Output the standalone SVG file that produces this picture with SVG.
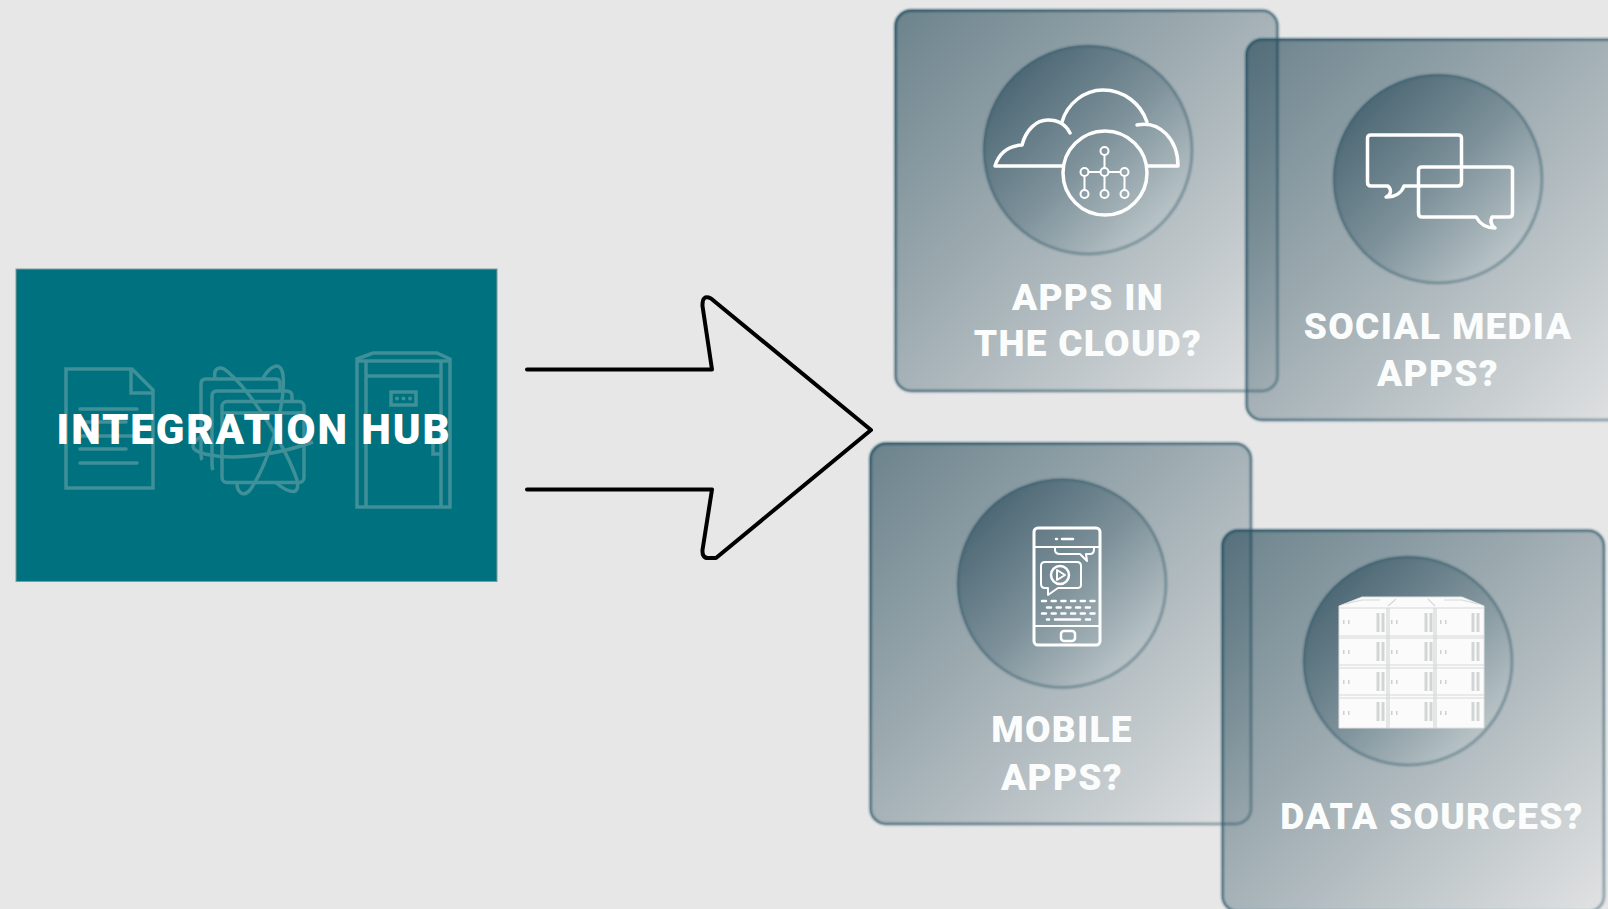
<svg xmlns="http://www.w3.org/2000/svg" width="1608" height="909" viewBox="0 0 1608 909">
<defs>
<linearGradient id="cardGrad" x1="0" y1="0" x2="1" y2="1">
<stop offset="0" stop-color="#1a4050" stop-opacity="0.6"/>
<stop offset="1" stop-color="#1a4050" stop-opacity="0.03"/>
</linearGradient>
<linearGradient id="edgeGrad" x1="0" y1="0" x2="1" y2="1">
<stop offset="0" stop-color="#2c5566" stop-opacity="0.95"/>
<stop offset="1" stop-color="#3c6272" stop-opacity="0.55"/>
</linearGradient>
<linearGradient id="circGrad" x1="0.12" y1="0.12" x2="0.88" y2="0.88">
<stop offset="0" stop-color="#4a6673"/>
<stop offset="0.5" stop-color="#7c9099"/>
<stop offset="1" stop-color="#bec8cb"/>
</linearGradient>
<linearGradient id="circEdge" x1="0" y1="0" x2="1" y2="1">
<stop offset="0" stop-color="#3a5c6b" stop-opacity="0.8"/>
<stop offset="1" stop-color="#6c8791" stop-opacity="0.8"/>
</linearGradient>
<filter id="soft" x="-3%" y="-3%" width="106%" height="106%"><feGaussianBlur stdDeviation="0.9"/></filter>
<filter id="softer" x="-3%" y="-3%" width="106%" height="106%"><feGaussianBlur stdDeviation="0.3"/></filter>
</defs>
<style>
.card{fill:url(#cardGrad)}
.edge{fill:none;stroke:url(#edgeGrad);stroke-width:2.500;filter:url(#soft)}
.circ{fill:url(#circGrad)}
.ring{fill:none;stroke:url(#circEdge);stroke-width:2.500;filter:url(#soft)}
.lbl{font-family:"Roboto","Liberation Sans",sans-serif;font-weight:900;fill:#fbfcfc;font-size:37px;letter-spacing:1.300px;text-anchor:middle}
.ic{fill:none;stroke:#fff;stroke-width:3.500;stroke-linejoin:round;stroke-linecap:round}
.ic2{fill:none;stroke:#fff;stroke-width:2;stroke-linecap:round;stroke-linejoin:round}
.hi{fill:none;stroke:#3f9098;stroke-width:3.500}
.db{fill:#fbfbfb;stroke:#dfe1e1;stroke-width:1}
.dbl{fill:none;stroke:#d6d9d9;stroke-width:1.200}
.bar{fill:none;stroke:#d2d5d5;stroke-width:3}
</style>
<rect width="1608" height="909" fill="#e7e7e7"/>
<g id="integration-hub">
<rect x="16" y="269" width="481" height="312.500" fill="#02727f" stroke="#7f9a9c" stroke-width="1" filter="url(#softer)"/>
<g class="hi">
<path d="M66 369H132L153 390V488H66Z"/><path d="M131 369V393H153"/>
<path d="M80 409H137M80 422H126M80 436H137M80 449H126M80 463H137" stroke-linecap="round"/>
<path d="M202 460Q201 458 201 452V384Q201 379 206 379H276Q280 379 280 384V390"/>
<path d="M213 470Q212 468 212 462V396Q212 391 217 391H286Q292 391 292 396V402"/>
<rect x="222" y="401.500" width="82" height="81" rx="5"/>
<path d="M222 413H304"/>
<path d="M215 378C213 368 220 365 228 372C252 392 287 450 297 480C300 494 292 496 275 482"/>
<path d="M263 378C270 366 281 360 283 375C286 405 268 465 250 490C243 498 237 492 237 483"/>
<path d="M200 437C190 445 190 450 205 454C240 462 285 452 313 442"/>
</g>
<g class="hi">
<path d="M357 359L373 353H437L450 359V507H357Z"/>
<path d="M357 361H450M366 361V507M441 361V507M366 376H441"/>
<rect x="391" y="392" width="25" height="13"/>
<path d="M433 440V454H441"/>
</g>
<circle cx="397" cy="398.500" r="2" fill="#3f9098"/><circle cx="403.500" cy="398.500" r="2" fill="#3f9098"/><circle cx="410" cy="398.500" r="2" fill="#3f9098"/>
<text x="254" y="444" font-family="Roboto,'Liberation Sans',sans-serif" font-weight="900" font-size="42" letter-spacing="1.900" fill="#fff" text-anchor="middle">INTEGRATION HUB</text>
</g>
<g id="connectors">
<path d="M527 369.500H712L702.500 306Q702 294 711 298.500L871 430L716 558H708Q702 558 702.500 550L712 489.500H527" fill="none" stroke="#000" stroke-width="4" stroke-linejoin="round" stroke-linecap="round"/>
</g>
<g id="card-cloud">
<rect class="card" x="895" y="10" width="383" height="381.500" rx="16"/>
<rect class="edge" x="895.500" y="10.500" width="382" height="380.500" rx="15.500"/>
<circle class="circ" cx="1088" cy="150" r="104.500"/>
<circle class="ring" cx="1088" cy="150" r="104"/>
<g class="ic">
<path d="M1063 166H995C999 153 1009 146 1022 145C1026 130 1036 120 1048 120C1058 120 1066 125 1070 133"/>
<path d="M1062 122C1067 104 1084 90 1103 90C1124 90 1141 104 1147 122"/>
<path d="M1137 125C1160 120 1178 140 1178 166H1147"/>
<circle cx="1105" cy="173" r="42"/>
</g>
<g class="ic2">
<path d="M1104.500 155V168M1104.500 176V190M1088.500 172H1100.500M1108.500 172H1120M1084.500 176V190M1124.500 176V190"/>
<circle cx="1104.500" cy="151" r="4"/><circle cx="1084.500" cy="172" r="4"/><circle cx="1104.500" cy="172" r="4"/><circle cx="1124.500" cy="172" r="4"/><circle cx="1084.500" cy="194" r="4"/><circle cx="1104.500" cy="194" r="4"/><circle cx="1124.500" cy="194" r="4"/>
</g>
<text class="lbl" x="1088" y="310">APPS IN</text>
<text class="lbl" x="1088" y="356">THE CLOUD?</text>
</g>
<g id="card-social">
<rect class="card" x="1246" y="39" width="383" height="381.500" rx="16"/>
<rect class="edge" x="1246.500" y="39.500" width="382" height="380.500" rx="15.500"/>
<circle class="circ" cx="1438" cy="179" r="104.500"/>
<circle class="ring" cx="1438" cy="179" r="104"/>
<g class="ic">
<path d="M1388 186H1371Q1367.500 186 1367.500 182V138Q1367.500 135 1371 135H1458Q1461.500 135 1461.500 138V182Q1461.500 186 1458 186H1404C1402 192 1396 197 1386 197C1391 195 1392 190 1388 186Z"/>
<path d="M1476 217H1422Q1418.500 217 1418.500 213V170Q1418.500 167 1422 167H1509Q1512.500 167 1512.500 170V213Q1512.500 217 1509 217H1492C1490 221 1491 225 1495 228C1486 228 1480 224 1476 217Z"/>
</g>
<text class="lbl" x="1438" y="339">SOCIAL MEDIA</text>
<text class="lbl" x="1438" y="386">APPS?</text>
</g>
<g id="card-mobile">
<rect class="card" x="870" y="443" width="381.500" height="381.500" rx="16"/>
<rect class="edge" x="870.500" y="443.500" width="380.500" height="380.500" rx="15.500"/>
<circle class="circ" cx="1062" cy="583.500" r="104.500"/>
<circle class="ring" cx="1062" cy="583.500" r="104"/>
<g class="ic2">
<rect x="1034" y="528" width="66" height="117" rx="4" stroke-width="3"/>
<path d="M1034 547H1100M1034 626H1100"/>
<path d="M1056 539H1057M1062 539H1073" stroke-width="2.500"/>
<path d="M1055 548V550Q1055 554 1060 554H1080L1087 561L1086 554H1090Q1094 554 1094 549V547"/>
<path d="M1045 562H1077Q1081 562 1081 566V585Q1081 588 1077 588H1058L1048 595V588H1045Q1041 588 1041 584V566Q1041 562 1045 562Z"/>
<circle cx="1060" cy="575" r="9" stroke-width="2.500"/>
<path d="M1057 570V580L1065 575Z"/>
<path d="M1042 601H1095M1047 607.500H1090M1042 613.500H1095" stroke-width="2.500" stroke-dasharray="4 5.700"/>
<path d="M1047 619.500H1049M1055 619.500H1080M1086 619.500H1090" stroke-width="2.500"/>
<rect x="1061" y="631" width="14" height="10" rx="3" stroke-width="2.500"/>
</g>
<text class="lbl" x="1062" y="742">MOBILE</text>
<text class="lbl" x="1062" y="790">APPS?</text>
</g>
<g id="card-data">
<rect class="card" x="1222" y="530" width="382.500" height="382" rx="16"/>
<rect class="edge" x="1222.500" y="530.500" width="381.500" height="381" rx="15.500"/>
<circle class="circ" cx="1408" cy="661" r="104.500"/>
<circle class="ring" cx="1408" cy="661" r="104"/>
<g id="storage" filter="url(#softer)">
<path class="db" d="M1339 606L1362 597H1462L1484 606V728H1339Z"/>
<path class="dbl" d="M1339 608H1484M1387 608V728M1389 608V728M1434 608V728M1436 608V728M1339 636H1484M1339 638H1484M1339 665H1484M1339 668H1484M1339 695H1484M1339 698H1484"/>
<path class="dbl" d="M1345 604L1362 600H1380M1388 606L1396 599M1435 606L1428 599M1478 604L1462 600H1444"/>
<path class="bar" d="M1378 613V632M1383 613V632M1426 613V632M1431 613V632M1473 613V632M1478 613V632M1378 642V661M1383 642V661M1426 642V661M1431 642V661M1473 642V661M1478 642V661M1378 672V691M1383 672V691M1426 672V691M1431 672V691M1473 672V691M1478 672V691M1378 702V721M1383 702V721M1426 702V721M1431 702V721M1473 702V721M1478 702V721"/>
<path d="M1343 622h1.500M1348 622h1.500M1391 622h1.500M1396 622h1.500M1440 622h1.500M1445 622h1.500M1343 652h1.500M1348 652h1.500M1391 652h1.500M1396 652h1.500M1440 652h1.500M1445 652h1.500M1343 682h1.500M1348 682h1.500M1391 682h1.500M1396 682h1.500M1440 682h1.500M1445 682h1.500M1343 713h1.500M1348 713h1.500M1391 713h1.500M1396 713h1.500M1440 713h1.500M1445 713h1.500" stroke="#cdd0d0" stroke-width="4" fill="none"/>
</g>
<text class="lbl" x="1432" y="829">DATA SOURCES?</text>
</g>
</svg>
